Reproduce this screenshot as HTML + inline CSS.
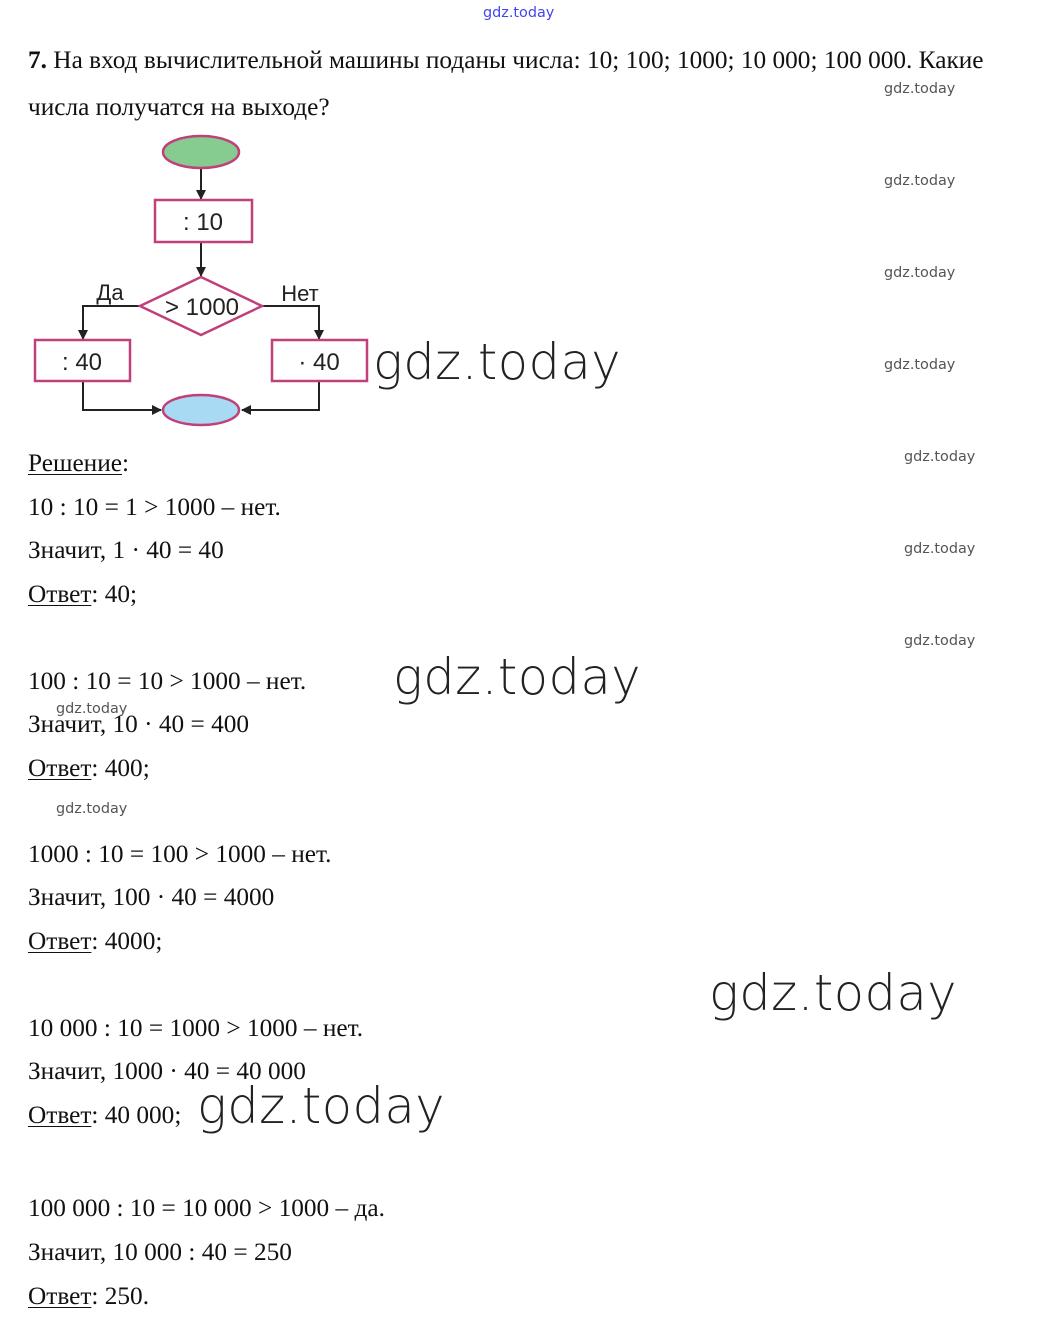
<!DOCTYPE html>
<html><head><meta charset="utf-8"><style>
body{margin:0;width:1049px;height:1334px;background:#fff;position:relative;overflow:hidden;font-family:"Liberation Serif",serif;color:#111}
.t{position:absolute;left:28px;font-size:25.3px;line-height:28px;white-space:nowrap}
u{text-decoration:underline;text-underline-offset:3px;text-decoration-thickness:1px}
.w{position:absolute;font-family:"DejaVu Sans","Liberation Sans",sans-serif;font-size:14.4px;color:#555;line-height:18px}
.W{position:absolute;font-family:"DejaVu Sans","Liberation Sans",sans-serif;font-size:49.5px;color:#222;line-height:56px;font-weight:300;letter-spacing:0.5px}
</style></head><body>
<div class="w" style="left:483px;top:4px;color:#4444ee">gdz.today</div>
<div class="t" style="top:46px"><b>7.</b> На вход вычислительной машины поданы числа: 10; 100; 1000; 10 000; 100 000. Какие</div>
<div class="w" style="left:884px;top:80px">gdz.today</div>
<div class="t" style="top:93px">числа получатся на выходе?</div>
<div class="w" style="left:884px;top:172px">gdz.today</div>
<div class="w" style="left:884px;top:264px">gdz.today</div>
<div class="w" style="left:884px;top:356px">gdz.today</div>
<div class="w" style="left:904px;top:448px">gdz.today</div>
<div class="w" style="left:904px;top:540px">gdz.today</div>
<div class="w" style="left:904px;top:632px">gdz.today</div>
<div class="w" style="left:56px;top:700px">gdz.today</div>
<div class="w" style="left:56px;top:800px">gdz.today</div>

<svg style="position:absolute;left:0;top:0" width="400" height="440">
<defs><marker id="a" markerWidth="10" markerHeight="10" refX="9" refY="5" orient="auto" markerUnits="userSpaceOnUse"><path d="M0,0 L10,5 L0,10 z" fill="#222"/></marker></defs>
<g stroke="#222" stroke-width="2" fill="none">
<line x1="201" y1="169" x2="201" y2="199" marker-end="url(#a)"/>
<line x1="201" y1="243" x2="201" y2="276" marker-end="url(#a)"/>
<polyline points="140,306 83,306 83,339" marker-end="url(#a)"/>
<polyline points="262,306 319,306 319,339" marker-end="url(#a)"/>
<polyline points="83,381 83,410 161,410" marker-end="url(#a)"/>
<polyline points="319,381 319,410 242,410" marker-end="url(#a)"/>
</g>
<g stroke="#c0407a" stroke-width="2.5">
<ellipse cx="201" cy="152" rx="38" ry="16" fill="#86cc90"/>
<rect x="155" y="200" width="97" height="42" fill="#fff"/>
<polygon points="140,306 201,277 262,306 201,335" fill="#fff"/>
<rect x="35" y="340" width="95" height="41" fill="#fff"/>
<rect x="272" y="340" width="95" height="41" fill="#fff"/>
<ellipse cx="201" cy="410" rx="38" ry="15" fill="#a8daf4"/>
</g>
<g font-family="Liberation Sans,sans-serif" font-size="24" fill="#222">
<text x="203" y="230" text-anchor="middle">: 10</text>
<text x="202" y="315" text-anchor="middle">&gt; 1000</text>
<text x="82" y="370" text-anchor="middle">: 40</text>
<text x="319" y="370" text-anchor="middle">· 40</text>
<text x="110" y="300" text-anchor="middle" font-size="22">Да</text>
<text x="300" y="301" text-anchor="middle" font-size="22">Нет</text>
</g>
</svg>
<div class="W" style="left:373px;top:334px">gdz.today</div>
<div class="W" style="left:393px;top:649px">gdz.today</div>
<div class="W" style="left:709px;top:965px">gdz.today</div>
<div class="W" style="left:197px;top:1078px">gdz.today</div>

<div class="t" style="top:449px"><u>Решение</u>:</div>
<div class="t" style="top:493px">10 : 10 = 1 &gt; 1000 – нет.</div>
<div class="t" style="top:536px">Значит, 1 · 40 = 40</div>
<div class="t" style="top:580px"><u>Ответ</u>: 40;</div>
<div class="t" style="top:667px">100 : 10 = 10 &gt; 1000 – нет.</div>
<div class="t" style="top:710px">Значит, 10 · 40 = 400</div>
<div class="t" style="top:754px"><u>Ответ</u>: 400;</div>
<div class="t" style="top:840px">1000 : 10 = 100 &gt; 1000 – нет.</div>
<div class="t" style="top:883px">Значит, 100 · 40 = 4000</div>
<div class="t" style="top:927px"><u>Ответ</u>: 4000;</div>
<div class="t" style="top:1014px">10 000 : 10 = 1000 &gt; 1000 – нет.</div>
<div class="t" style="top:1057px">Значит, 1000 · 40 = 40 000</div>
<div class="t" style="top:1101px"><u>Ответ</u>: 40 000;</div>
<div class="t" style="top:1194px">100 000 : 10 = 10 000 &gt; 1000 – да.</div>
<div class="t" style="top:1238px">Значит, 10 000 : 40 = 250</div>
<div class="t" style="top:1282px"><u>Ответ</u>: 250.</div>
</body></html>
